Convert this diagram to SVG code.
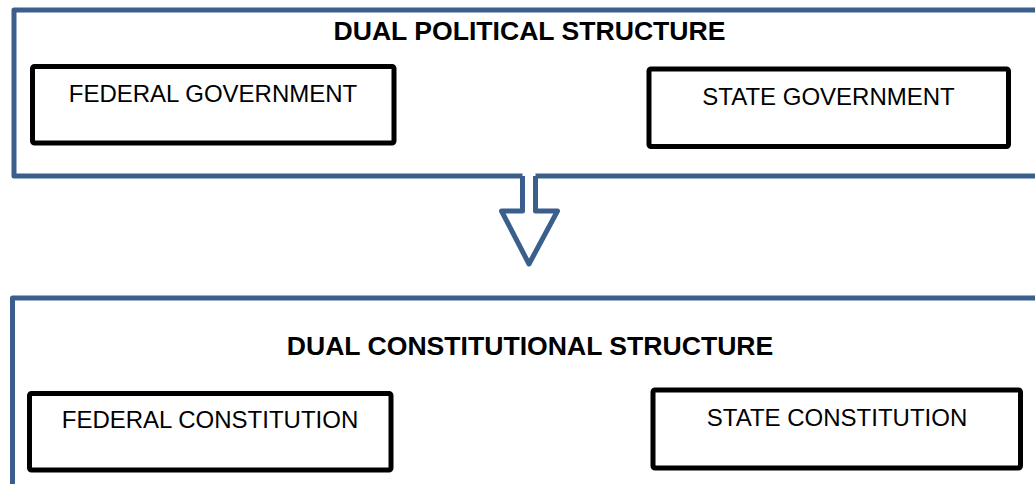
<svg xmlns="http://www.w3.org/2000/svg" width="1035" height="484" viewBox="0 0 1035 484">
<style>
.outer{fill:none;stroke:#3B5F8D;stroke-width:5;stroke-linejoin:round}
.box{fill:#fff;stroke:#000;stroke-width:5;stroke-linejoin:round}
.title{font-family:"Liberation Sans",Arial,sans-serif;font-weight:bold;font-size:26.6px;fill:#000;text-anchor:middle}
.lbl{font-family:"Liberation Sans",Arial,sans-serif;font-size:24px;fill:#000;text-anchor:middle}
</style>
<rect width="1035" height="484" fill="#fff"/>
<g id="political-structure">
<path class="outer" d="M1045,10 L14,10 L14,176 L522.5,176 M535.5,176 L1045,176"/>
<text class="title" x="529.5" y="40">DUAL POLITICAL STRUCTURE</text>
</g>
<g id="federal-government">
<rect class="box" x="32.5" y="66.5" width="361.5" height="76.5" rx="2"/>
<text class="lbl" x="213" y="102">FEDERAL GOVERNMENT</text>
</g>
<g id="state-government">
<rect class="box" x="649" y="69" width="359.5" height="77.5" rx="2"/>
<text class="lbl" x="828.5" y="105">STATE GOVERNMENT</text>
</g>
<g id="connectors">
<path class="outer" d="M522.5,176 L522.5,211 L501.5,211 L529,264 L557.5,211 L535.5,211 L535.5,176"/>
</g>
<g id="constitutional-structure">
<path class="outer" d="M1045,298 L12.5,298 L12.5,494"/>
<text class="title" x="530" y="355">DUAL CONSTITUTIONAL STRUCTURE</text>
</g>
<g id="federal-constitution">
<rect class="box" x="29.5" y="393.5" width="361.5" height="76.5" rx="2"/>
<text class="lbl" x="210" y="428">FEDERAL CONSTITUTION</text>
</g>
<g id="state-constitution">
<rect class="box" x="653" y="390" width="367.5" height="78" rx="2"/>
<text class="lbl" x="837" y="426">STATE CONSTITUTION</text>
</g>
</svg>
